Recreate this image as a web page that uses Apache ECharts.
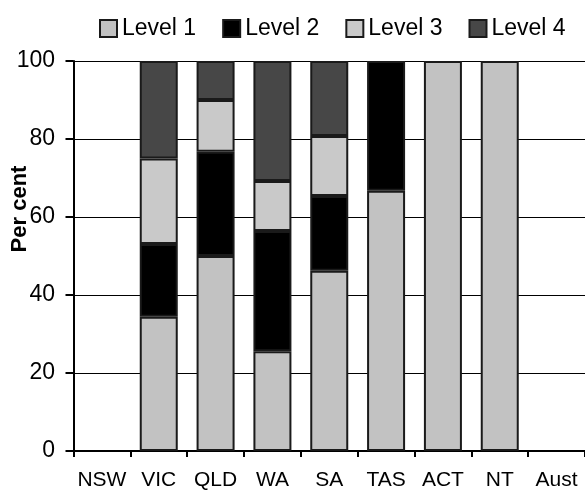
<!DOCTYPE html>
<html>
<head>
<meta charset="utf-8">
<script src="https://cdn.jsdelivr.net/npm/echarts@6/dist/echarts.min.js"></script>
<style>
html,body{margin:0;padding:0;background:#fff;}
#chart{width:585px;height:491px;}
</style>
</head>
<body>
<div id="chart"></div>
<script>
var categories = ['NSW','VIC','QLD','WA','SA','TAS','ACT','NT','Aust'];
var level1 = [null, 34.4, 50.0, 25.6, 46.2, 66.7, 100, 100, null];
var level2 = [null, 18.7, 26.7, 30.8, 19.2, 33.3, null, null, null];
var level3 = [null, 21.9, 13.3, 12.8, 15.4, null, null, null, null];
var level4 = [null, 25.0, 10.0, 30.8, 19.2, null, null, null, null];
var yTicks = [0, 20, 40, 60, 80, 100];

var FONT = '"Liberation Sans", Arial, sans-serif';
var chart = echarts.init(document.getElementById('chart'), null, {renderer:'canvas'});

function mk(name, data, color) {
  return {
    name: name, type: 'bar', stack: 'total', data: data, barWidth: 38,
    itemStyle: { color: color, borderColor: '#1a1a1a', borderWidth: 2 },
    emphasis: { disabled: true }
  };
}

chart.setOption({
  animation: false,
  backgroundColor: '#ffffff',
  legend: {
    left: 94, top: 12,
    itemWidth: 17, itemHeight: 17, itemGap: 26,
    icon: 'rect',
    textStyle: { fontFamily: FONT, fontSize: 23, color: '#000' },
    data: ['Level 1','Level 2','Level 3','Level 4']
  },
  grid: { left: 73.5, top: 61, width: 520, height: 390, containLabel: false },
  xAxis: {
    type: 'category', data: categories, boundaryGap: true,
    axisLine: { show: true, lineStyle: { color: '#000', width: 2 } },
    axisTick: { show: true, length: 6, lineStyle: { color: '#000', width: 2 } },
    axisLabel: { fontFamily: FONT, fontSize: 21, color: '#000', margin: 19, interval: 0 },
    splitLine: { show: false }
  },
  yAxis: {
    type: 'value', min: yTicks[0], max: yTicks[yTicks.length-1], interval: 20,
    axisLine: { show: true, lineStyle: { color: '#000', width: 2 } },
    axisTick: { show: true, length: 8, lineStyle: { color: '#000', width: 2 } },
    axisLabel: { fontFamily: FONT, fontSize: 23, color: '#000', margin: 18.5 },
    splitLine: { show: true, lineStyle: { color: '#000', width: 1 } }
  },
  graphic: [{
    type: 'text', x: 19.5, y: 209, rotation: Math.PI/2,
    style: { text: 'Per cent', font: 'bold 22px ' + FONT, fill: '#000', align: 'center', verticalAlign: 'middle' }
  }],
  series: [
    mk('Level 1', level1, '#c2c2c2'),
    mk('Level 2', level2, '#000000'),
    mk('Level 3', level3, '#c9c9c9'),
    mk('Level 4', level4, '#474747')
  ]
});
</script>
</body>
</html>
